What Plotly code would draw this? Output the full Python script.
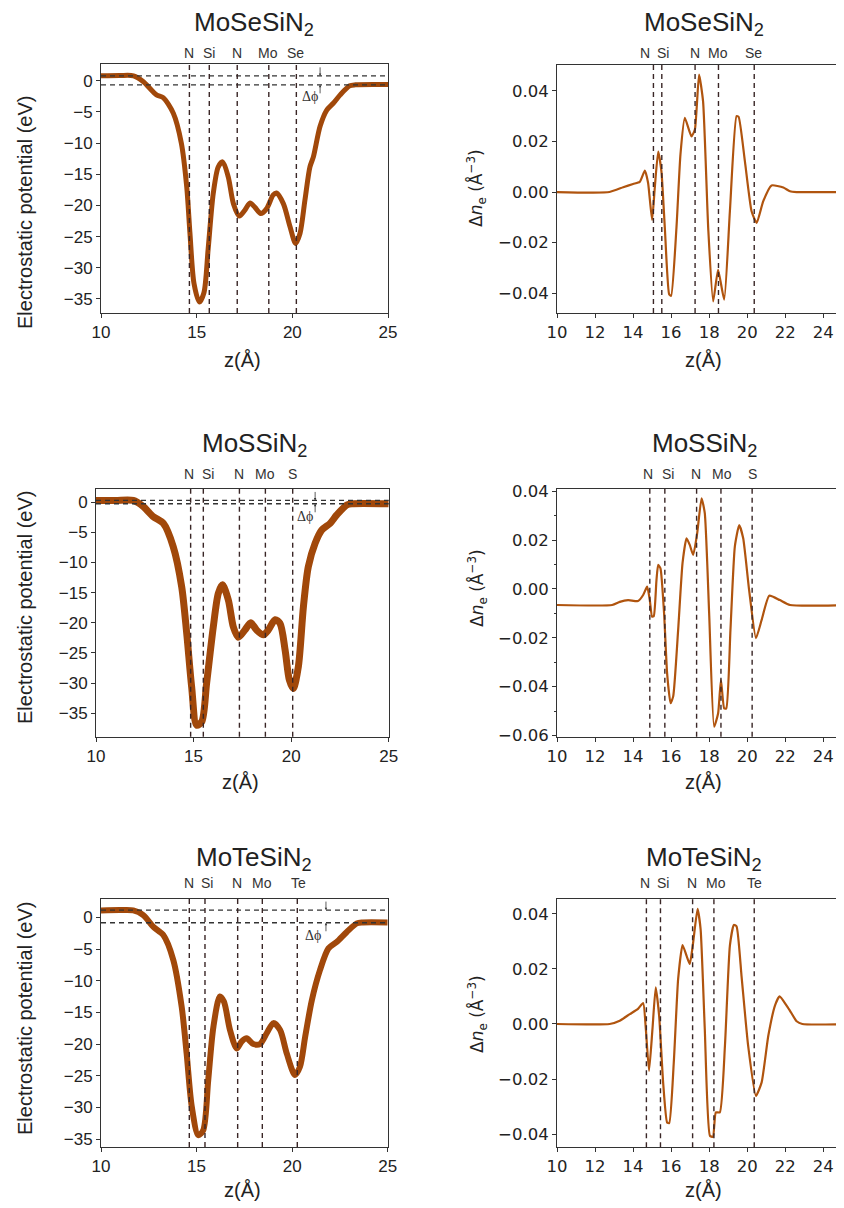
import plotly.graph_objects as go

# ---------------- data ----------------
titles = ["MoSeSiN<sub>2</sub>", "MoSSiN<sub>2</sub>", "MoTeSiN<sub>2</sub>"]
atom_labels = [["N", "Si", "N", "Mo", "Se"],
               ["N", "Si", "N", "Mo", "S"],
               ["N", "Si", "N", "Mo", "Te"]]

# electrostatic potential (eV) vs z (Å)
pot_se_z = [10, 11.0, 11.7, 12.2, 12.9, 13.25, 13.78, 14.2, 14.48, 14.65, 14.86, 15.14, 15.38, 15.6, 15.87,
            16.13, 16.36, 16.65, 16.92, 17.23, 17.53, 17.79, 18.05, 18.35, 18.66, 19.0, 19.17, 19.53, 19.88,
            20.17, 20.4, 20.66, 20.92, 21.1, 21.45, 21.8, 22.14, 22.5, 23.0, 23.3, 25]
pot_se_v = [0.8, 0.85, 0.8, -0.1, -2.25, -2.7, -5.2, -10, -17, -24.5, -32.5, -35.5, -34, -27, -18,
            -13.8, -13, -15.4, -19.7, -21.7, -20.7, -19.6, -20.3, -21.3, -20.5, -18.3, -18, -19.7, -23.4,
            -26.1, -24.5, -19.1, -13.8, -12.2, -7.3, -4.7, -3.6, -2.25, -0.8, -0.64, -0.6]

pot_s_z = [10, 11.0, 11.91, 12.42, 12.94, 13.45, 13.96, 14.39, 14.65, 14.9, 15.16, 15.42, 15.67, 16.01,
           16.27, 16.48, 16.78, 17.04, 17.29, 17.63, 17.93, 18.23, 18.58, 18.83, 19.18, 19.43, 19.69, 19.91,
           20.11, 20.37, 20.63, 20.88, 21.23, 21.57, 22.0, 22.34, 22.85, 23.1, 25]
pot_s_v = [0.3, 0.3, 0.3, -0.7, -2.4, -3.5, -7.4, -14, -21.8, -30.6, -37, -36.4, -30, -20.7,
           -15.1, -13.7, -16.2, -20.7, -22.4, -21.2, -20, -21.2, -22, -21.2, -19.5, -20.1, -24.5, -29.5,
           -30.9, -27.3, -17.3, -10.7, -6.8, -4.6, -3.5, -2.1, -0.45, -0.25, -0.25]

pot_te_z = [10, 11.0, 11.69, 12.21, 12.74, 13.26, 13.78, 14.22, 14.48, 14.75, 15.09, 15.35, 15.61, 15.88,
            16.22, 16.43, 16.75, 17.1, 17.36, 17.62, 17.97, 18.32, 18.67, 19.02, 19.37, 19.72, 20.15, 20.41,
            20.68, 21.03, 21.46, 21.9, 22.33, 22.86, 23.38, 23.7, 25]
pot_te_v = [1.1, 1.15, 1.1, 0.36, -1.5, -2.8, -6.7, -14.1, -21.5, -29.9, -34.4, -33.6, -25.7, -17.3,
            -12.5, -13.3, -17.8, -20.7, -19.6, -19.1, -20, -20, -18.3, -16.7, -17.8, -21.5, -24.9, -23.6,
            -18.9, -13.1, -8.3, -4.9, -3.9, -2.3, -0.95, -0.8, -0.8]

# vacuum levels (dashed horizontal lines)
vac_se = [0.8, -0.64]
vac_s = [0.3, -0.25]
vac_te = [1.15, -0.85]

# charge density difference (Å^-3) vs z (Å)
dn_se_z = [10, 12.76, 13.48, 14.0, 14.35, 14.62, 14.79, 15.0, 15.14, 15.32, 15.49, 15.67, 15.9, 16.0,
           16.28, 16.49, 16.72, 17.07, 17.25, 17.47, 17.68, 17.95, 18.21, 18.47, 18.79, 19.09, 19.44,
           19.55, 19.88, 20.23, 20.5, 20.84, 21.28, 21.9, 22.25, 22.6, 25.6]
dn_se_v = [0, 0, 0.0019, 0.0032, 0.004, 0.0085, 0.0036, -0.011, 0.0016, 0.016, 0.0082, -0.0142, -0.0405,
           -0.041, -0.0142, 0.0148, 0.0293, 0.022, 0.0247, 0.0464, 0.0358, -0.0142, -0.0432, -0.0307,
           -0.0425, -0.0076, 0.030, 0.0297, 0.0121, -0.0076, -0.0122, -0.0037, 0.0026, 0.0018, 0.0003, 0, 0]

dn_s_z = [10, 12.9, 13.3, 13.74, 14.26, 14.53, 14.74, 14.88, 15.0, 15.09, 15.23, 15.32, 15.44, 15.63,
          15.79, 15.97, 16.11, 16.37, 16.6, 16.81, 16.98, 17.16, 17.37, 17.6, 17.77, 18.0, 18.26, 18.47,
          18.62, 18.79, 18.9, 19.12, 19.35, 19.58, 19.79, 20.1, 20.46, 20.76, 21.16, 21.72, 22.25, 25.6]
dn_s_v = [-0.0066, -0.0066, -0.0053, -0.0046, -0.005, -0.0025, 0.0009, -0.0046, -0.0114, -0.0111, 0.0036,
          0.0098, 0.0084, -0.01, -0.0346, -0.0468, -0.044, -0.0168, 0.0105, 0.0207, 0.018, 0.0139, 0.0227,
          0.0371, 0.031, -0.01, -0.0564, -0.051, -0.0373, -0.0489, -0.0489, -0.0168, 0.0173, 0.0261,
          0.0207, -0.0004, -0.0202, -0.0127, -0.0028, -0.0046, -0.0066, -0.0066]

dn_te_z = [10, 12.77, 13.3, 13.83, 14.26, 14.53, 14.67, 14.84, 15.02, 15.19, 15.37, 15.58, 15.79, 15.9,
           16.14, 16.37, 16.6, 16.81, 16.98, 17.16, 17.39, 17.55, 17.77, 18.04, 18.2, 18.35, 18.56, 18.83,
           19.09, 19.3, 19.44, 19.7, 20.05, 20.46, 20.76, 21.11, 21.46, 21.7, 22.07, 22.25, 22.6, 22.9, 25.6]
dn_te_v = [0, 0, 0.0012, 0.0036, 0.0055, 0.0076, -0.0018, -0.017, -0.0018, 0.0133, 0.003, -0.0212, -0.0358,
           -0.036, -0.014, 0.0164, 0.0287, 0.0248, 0.0218, 0.0297, 0.0418, 0.0345, -0.0018, -0.0406, -0.041,
           -0.0321, -0.0321, -0.0079, 0.0285, 0.036, 0.0355, 0.0176, -0.0079, -0.0261, -0.0212, -0.0043,
           0.0067, 0.01, 0.0067, 0.0048, 0.001, 0, 0]

# atomic layer positions (Å)
pot_atoms = [[14.62, 15.66, 17.12, 18.77, 20.21],
             [14.85, 15.50, 17.35, 18.68, 20.08],
             [14.62, 15.44, 17.15, 18.44, 20.27]]
dn_atoms = [[15.07, 15.51, 17.26, 18.49, 20.37],
            [14.88, 15.67, 17.34, 18.62, 20.26],
            [14.70, 15.44, 17.13, 18.25, 20.37]]
# label anchor positions (Å)
pot_label_z = [[14.60, 15.66, 17.12, 18.75, 20.17],
               [14.78, 15.76, 17.35, 18.68, 20.08],
               [14.59, 15.56, 17.10, 18.41, 20.32]]
dn_label_z = [[14.65, 15.56, 17.25, 18.47, 20.32],
              [14.81, 15.84, 17.30, 18.65, 20.26],
              [14.63, 15.55, 17.08, 18.37, 20.37]]

pot_z = [pot_se_z, pot_s_z, pot_te_z]
pot_v = [pot_se_v, pot_s_v, pot_te_v]
vac = [vac_se, vac_s, vac_te]
dn_z = [dn_se_z, dn_s_z, dn_te_z]
dn_v = [dn_se_v, dn_s_v, dn_te_v]

# ---------------- styling / layout ----------------
W, H = 844, 1208
OFF = 8  # page body margin offset compensation
def px_x(p): return (p - OFF) / W
def px_y(p): return 1 - (p - OFF) / H

left_box = [(101, 388, 64, 313), (96, 388.7, 489, 736.7), (101, 387.7, 899, 1147)]
right_box = [(557, 852, 65, 313), (557, 852, 488.7, 736.7), (557, 852, 899.3, 1147.3)]
right_xmax = 10 + (852 - 557.3) / 19.0
left_yrange = [[-37.25, 2.7], [-38.9, 2.2], [-36.26, 2.9]]
right_yrange = [[-0.0478, 0.0502], [-0.0605, 0.041], [-0.0448, 0.0453]]
left_lw = [5, 7, 6]
title_y = [24, 444.5, 858.5]
label_y = [53, 474, 883]
ytitle_left_y = [213, 608, 1019]
ytitle_right_y = [188, 588, 1014]
xtitle_y = [360, 782, 1190]
dphi_arrow_z = [21.45, 21.23, 21.77]
dphi_text = [(20.93, -2.5), (20.7, -2.4), (21.11, -2.8)]

pot_color = "#a1480a"
dn_color = "#b0540e"
vline_color = "#3a2626"
axis_color = "#333333"
sans = "Liberation Sans"
left_tick_font = dict(family=sans, size=17, color="#222222")
right_tick_font = dict(family="DejaVu Sans", size=16.5, color="#222222")


def ann(**kw):
    base = dict(showarrow=False, xanchor="center", yanchor="middle")
    base.update(kw)
    return base


fig = go.Figure()
layout = dict(width=W, height=H, margin=dict(l=0, r=0, t=0, b=0, pad=0, autoexpand=False),
              paper_bgcolor="white", plot_bgcolor="white", showlegend=False)
shapes, annotations = [], []
common_axis = dict(showline=True, linecolor=axis_color, ticks="outside", ticklen=4, tickcolor=axis_color,
                   showgrid=False, zeroline=False, automargin=False)

for i in range(3):
    for side in range(2):
        k = 2 * i + side + 1
        xa = "xaxis" if k == 1 else f"xaxis{k}"
        ya = "yaxis" if k == 1 else f"yaxis{k}"
        xr = "x" if k == 1 else f"x{k}"
        yr = "y" if k == 1 else f"y{k}"
        if side == 0:
            x0, x1, y0, y1 = left_box[i]
            fig.add_trace(go.Scatter(x=pot_z[i], y=pot_v[i], mode="lines", xaxis=xr, yaxis=yr,
                                     line=dict(color=pot_color, width=left_lw[i], shape="spline", smoothing=0.8)))
            layout[xa] = dict(domain=[px_x(x0), px_x(x1)], range=[10, 25], anchor=yr,
                              tickvals=[10, 15, 20, 25], mirror=True, tickfont=left_tick_font, **common_axis)
            layout[ya] = dict(domain=[px_y(y1), px_y(y0)], range=left_yrange[i], anchor=xr,
                              dtick=5, tick0=0, mirror=True, tickfont=left_tick_font, **common_axis)
            atoms, labz, labels = pot_atoms[i], pot_label_z[i], atom_labels[i]
            for lv in vac[i]:
                shapes.append(dict(type="line", xref=f"{xr} domain", yref=yr, x0=0, x1=1, y0=lv, y1=lv,
                                   line=dict(color="#333333", width=1.3, dash="5px,4px")))
            # delta phi arrows and text
            az = dphi_arrow_z[i]
            annotations.append(dict(x=az, y=vac[i][0], xref=xr, yref=yr, ax=0, ay=-10, showarrow=True,
                                    arrowhead=2, arrowsize=0.6, arrowwidth=0.8, arrowcolor="#333", text=""))
            annotations.append(dict(x=az, y=vac[i][1], xref=xr, yref=yr, ax=0, ay=10, showarrow=True,
                                    arrowhead=2, arrowsize=0.6, arrowwidth=0.8, arrowcolor="#333", text=""))
            annotations.append(ann(x=dphi_text[i][0], y=dphi_text[i][1], xref=xr, yref=yr,
                                   text="Δϕ", font=dict(family="Liberation Serif", size=14, color="#333")))
            annotations.append(ann(x=px_x(25), y=px_y(ytitle_left_y[i]), xref="paper", yref="paper",
                                   text="Electrostatic potential (eV)", textangle=-90,
                                   font=dict(family=sans, size=20, color="#222")))
            annotations.append(ann(x=px_x((x0 + x1) / 2 - 2), y=px_y(xtitle_y[i]), xref="paper", yref="paper",
                                   text="z(Å)", font=dict(family=sans, size=20, color="#222")))
            annotations.append(ann(x=px_x(254), y=px_y(title_y[i]), xref="paper", yref="paper",
                                   text=titles[i], font=dict(family=sans, size=26, color="#222")))
        else:
            x0, x1, y0, y1 = right_box[i]
            fig.add_trace(go.Scatter(x=dn_z[i], y=dn_v[i], mode="lines", xaxis=xr, yaxis=yr,
                                     line=dict(color=dn_color, width=2.2, shape="spline", smoothing=0.5)))
            layout[xa] = dict(domain=[px_x(x0), min(1.0, px_x(x1))], range=[10, right_xmax], anchor=yr,
                              tickvals=[10, 12, 14, 16, 18, 20, 22, 24], mirror=True,
                              tickfont=right_tick_font, **common_axis)
            ydict = dict(domain=[px_y(y1), px_y(y0)], range=right_yrange[i], anchor=xr,
                         dtick=0.02, tick0=0, tickformat=".2f", mirror=False,
                         tickfont=right_tick_font, **common_axis)
            if i == 1:
                ydict["minor"] = dict(dtick=0.01, tick0=0, ticks="outside", ticklen=2.5, tickcolor=axis_color)
            layout[ya] = ydict
            atoms, labz, labels = dn_atoms[i], dn_label_z[i], atom_labels[i]
            annotations.append(ann(x=px_x(477), y=px_y(ytitle_right_y[i]), xref="paper", yref="paper",
                                   text="Δ<i>n</i><sub>e</sub> (Å<sup>−3</sup>)", textangle=-90,
                                   font=dict(family="DejaVu Sans", size=17, color="#222")))
            annotations.append(ann(x=px_x(703), y=px_y(xtitle_y[i]), xref="paper", yref="paper",
                                   text="z(Å)", font=dict(family=sans, size=20, color="#222")))
            annotations.append(ann(x=px_x(704), y=px_y(title_y[i]), xref="paper", yref="paper",
                                   text=titles[i], font=dict(family=sans, size=26, color="#222")))
        for a in atoms:
            shapes.append(dict(type="line", xref=xr, yref=f"{yr} domain", x0=a, x1=a, y0=0, y1=1,
                               line=dict(color=vline_color, width=1.4, dash="5px,4px")))
        for lz, lab in zip(labz, labels):
            annotations.append(ann(x=lz, y=px_y(label_y[i]), xref=xr, yref="paper", text=lab,
                                   font=dict(family=sans, size=14, color="#333")))

layout["shapes"] = shapes
layout["annotations"] = annotations
fig.update_layout(**layout)
fig.write_html("out.html")
